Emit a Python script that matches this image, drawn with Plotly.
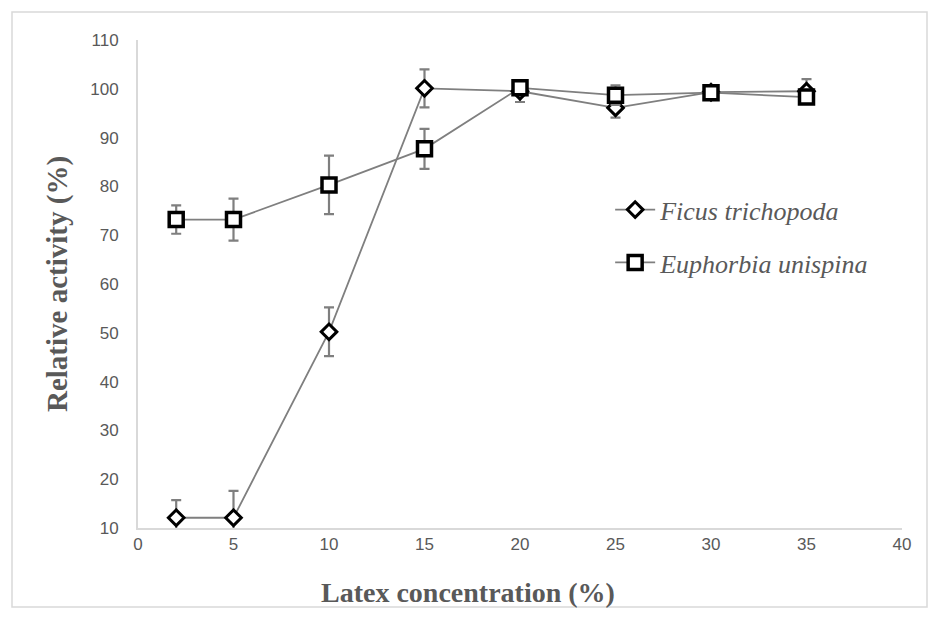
import plotly.graph_objects as go

concentration = [2, 5, 10, 15, 20, 25, 30, 35]
ficus = [12.1, 12.1, 50.2, 100.1, 99.5, 96.1, 99.3, 99.5]
ficus_err = [3.6, 5.5, 5.0, 3.9, 2.2, 2.0, 1.0, 2.5]
euphorbia = [73.2, 73.2, 80.3, 87.7, 100.2, 98.7, 99.2, 98.3]
euphorbia_err = [2.9, 4.3, 6.0, 4.1, 1.3, 2.0, 1.5, 1.0]

x_ticks = [0, 5, 10, 15, 20, 25, 30, 35, 40]
y_ticks = [10, 20, 30, 40, 50, 60, 70, 80, 90, 100, 110]

GRAY = "#7f7f7f"
TXT = "#595959"

fig = go.Figure()
fig.add_trace(go.Scatter(
    x=concentration, y=ficus, name="<i>Ficus trichopoda</i>",
    mode="lines+markers", legendgroup="a",
    line=dict(color=GRAY, width=1.8),
    marker=dict(symbol="diamond", size=12, color="white",
                line=dict(color="black", width=3)),
    error_y=dict(type="data", array=ficus_err, color=GRAY, thickness=2.2, width=5),
))
fig.add_trace(go.Scatter(
    x=concentration, y=euphorbia, name="<i>Euphorbia unispina</i>",
    mode="lines+markers", legendgroup="b",
    line=dict(color=GRAY, width=1.8),
    marker=dict(symbol="square", size=14, color="white",
                line=dict(color="black", width=3.5)),
    error_y=dict(type="data", array=euphorbia_err, color=GRAY, thickness=2.2, width=5),
))

fig.update_layout(
    width=939, height=619,
    margin=dict(l=138, r=37, t=40, b=91),
    paper_bgcolor="white", plot_bgcolor="white",
    showlegend=True,
    legend=dict(x=0.618, y=0.598, xanchor="left", yanchor="middle",
                font=dict(family="Liberation Serif", size=26, color=TXT),
                bgcolor="rgba(0,0,0,0)", tracegroupgap=16, itemwidth=40),
    shapes=[dict(type="rect", xref="paper", yref="paper",
                 x0=-126/764, x1=1 + 25/764, y0=-79/488, y1=1 + 28/488,
                 line=dict(color="#d9d9d9", width=1.5), layer="below")],
    annotations=[dict(text="<b>Latex concentration (%)</b>", xref="paper", yref="paper",
                      x=(468 - 138) / 764, y=-(592 - 528) / 488,
                      xanchor="center", yanchor="middle", showarrow=False,
                      font=dict(family="Liberation Serif", size=28, color=TXT))],
)
fig.update_xaxes(
    range=[0, 40], tickvals=x_ticks, ticks="", showgrid=False, zeroline=False,
    showline=True, linecolor="#d9d9d9", linewidth=2,
    tickfont=dict(family="Liberation Sans", size=17, color=TXT),
)
fig.update_yaxes(
    range=[10, 110], tickvals=y_ticks, ticks="", showgrid=False, zeroline=False,
    showline=True, linecolor="#d9d9d9", linewidth=2,
    tickfont=dict(family="Liberation Sans", size=17, color=TXT),
    ticklabelstandoff=14,
    title=dict(text="<b>Relative activity (%)</b>", standoff=14,
               font=dict(family="Liberation Serif", size=29, color=TXT)),
)

fig.write_html("out.html")
